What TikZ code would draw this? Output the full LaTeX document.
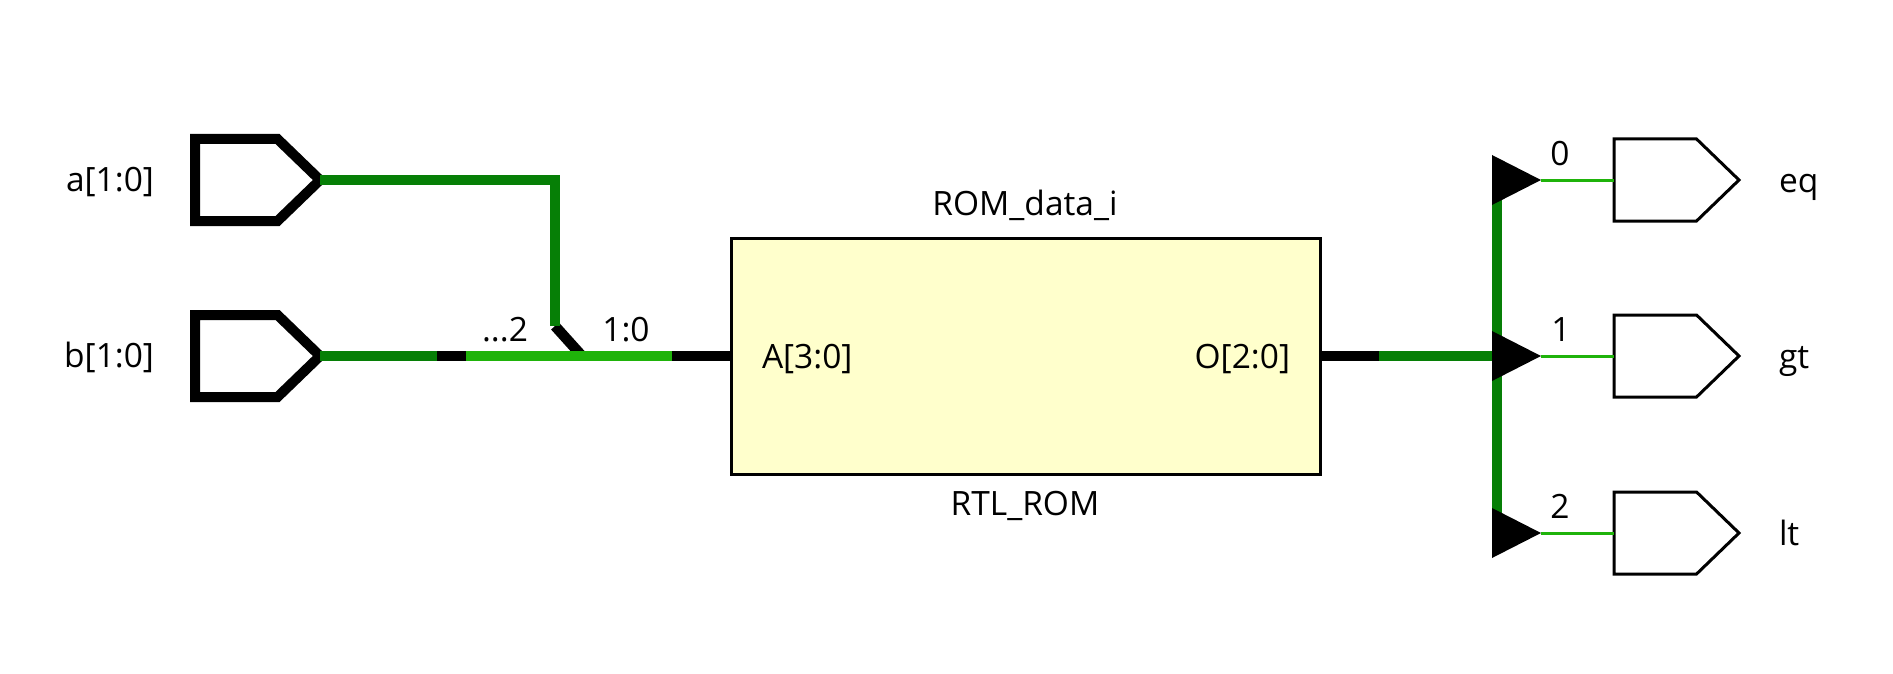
\documentclass[tikz,border=0pt]{standalone}
\usepackage{xcolor}
\usepackage{fontspec}
\setmainfont{Open Sans}
\usetikzlibrary{shapes.geometric,shapes.symbols,positioning,calc}
\definecolor{busdark}{HTML}{067F06}
\definecolor{buslight}{HTML}{1FB30A}
\definecolor{romfill}{HTML}{FFFFCC}

\begin{document}
\begin{tikzpicture}[x=1pt, y=-1pt, font=\fontsize{33.5}{40}\selectfont,
  port/.style={shape=signal, signal to=east, signal from=nowhere, signal pointer angle=88, draw, inner sep=0pt, outer sep=0pt, minimum width=125pt, minimum height=82pt, anchor=west},
  inport/.style={port, line width=10pt, line join=miter},
  outport/.style={port, line width=3pt},
  rip/.style={isosceles triangle, isosceles triangle stretches, fill=black, inner sep=0pt, outer sep=0pt, minimum width=50pt, minimum height=49pt, anchor=lower side},
  bus/.style={line width=10.5pt},
  bit/.style={line width=3pt, buslight},
  lbl/.style={inner sep=0pt, outer sep=0pt, anchor=base}]
\useasboundingbox (0,0) rectangle (1893,674);
% input ports
\node[inport] (aport) at (195,180) {};
\node[inport] (bport) at (195,356) {};
\node[lbl, anchor=base east] (alabel) at (154,191) {a[1:0]};
\node[lbl, anchor=base east] (blabel) at (154,367) {b[1:0]};
% ROM block
\node[draw, fill=romfill, line width=3pt, inner sep=0pt, outer sep=0pt, minimum width=589pt, minimum height=236pt] (rom) at (1025.5,356) {};
\node[lbl] (romname) at (1025,215) {ROM\_data\_i};
\node[lbl] (romtype) at (1025,515) {RTL\_ROM};
\node[lbl, anchor=base west] (romin) at (762,368) {A[3:0]};
\node[lbl, anchor=base east] (romout) at (1290,368) {O[2:0]};
% output side
\node[outport] (eqport) at (1614,180) {};
\node[outport] (gtport) at (1614,356) {};
\node[outport] (ltport) at (1614,533) {};
\node[lbl, anchor=base west] (eqlabel) at (1779,192) {eq};
\node[lbl, anchor=base west] (gtlabel) at (1779,368) {gt};
\node[lbl, anchor=base west] (ltlabel) at (1779,545) {lt};
\node[lbl] (bit0) at (1560,165) {0};
\node[lbl] (bit1) at (1561,341) {1};
\node[lbl] (bit2) at (1560,518) {2};
\node[lbl] (bitsb) at (505,341) {...2};
\node[lbl] (bitsa) at (626,341) {1:0};
% wire points
\coordinate (aturn) at (555,180);
\coordinate (adrop) at (555,326);
\coordinate (ajoin) at (582,356);
\coordinate (bgap) at (437,356);
\coordinate (sliceleft) at (466,356);
\coordinate (sliceright) at (672,356);
\coordinate (outgap) at (1379,356);
\coordinate (ripin) at (1492,356);
\coordinate (riptop) at (1497,200);
\coordinate (ripbot) at (1497,513);
% wires
\draw[bus, black] (adrop) -- (ajoin);
\draw[bus, busdark] (aport.east) -- (aturn) -- (adrop);
\draw[bus, busdark] (bport.east) -- (bgap);
\draw[bus, black] (bgap) -- (sliceleft);
\draw[bus, buslight] (sliceleft) -- (sliceright);
\draw[bus, black] (sliceright) -- (rom.west);
\draw[bus, black] (rom.east) -- (outgap);
\draw[bus, busdark] (outgap) -- (ripin);
\draw[bus, busdark] (riptop) -- (ripbot);
\node[rip] (rip0) at (1492,180) {};
\node[rip] (rip1) at (1492,356) {};
\node[rip] (rip2) at (1492,533) {};
\draw[bit] (rip0.apex) -- (eqport.west);
\draw[bit] (rip1.apex) -- (gtport.west);
\draw[bit] (rip2.apex) -- (ltport.west);
\end{tikzpicture}
\end{document}
